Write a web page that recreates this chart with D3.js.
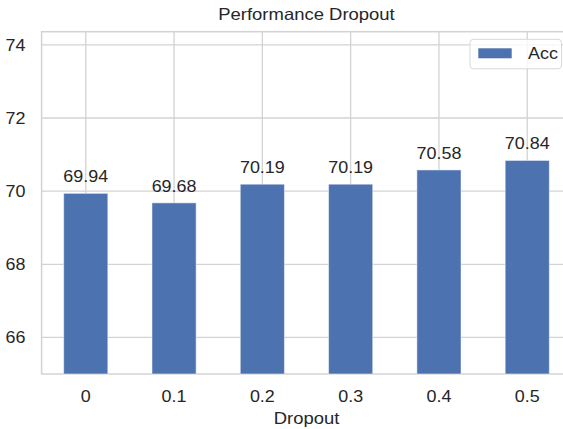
<!DOCTYPE html>
<html>
<head>
<meta charset="utf-8">
<script src="https://cdn.jsdelivr.net/npm/d3@7"></script>
<style>
  body { margin: 0; background: #fff; }
  svg { display: block; font-family: "Liberation Sans", Arial, sans-serif; }
</style>
</head>
<body>
<div id="chart"></div>
<script>
const dropouts = ['0', '0.1', '0.2', '0.3', '0.4', '0.5'];
const accValues = [69.94, 69.68, 70.19, 70.19, 70.58, 70.84];
const yTicks = [66, 68, 70, 72, 74];
const seriesName = 'Acc';

const W = 563, H = 429;
const plot = {left: 41.6, right: 571.4, top: 31.7, bottom: 374};
const textColor = '#262626';
const gridColor = '#d3d3d3';
const barColor = '#4c72b0';
const sx = 1.12; // picture text is a little wider than the font

const svg = d3.select('#chart').append('svg')
    .attr('width', W)
    .attr('height', H);

const x = d3.scaleBand().domain(dropouts).range([plot.left, plot.right])
    .paddingInner(0.5).paddingOuter(0.25);
const y = d3.scaleLinear().domain([65, 74.36]).range([plot.bottom, plot.top]);
const cx = d => x(d) + x.bandwidth() / 2;

function label(g, tx, ty, str, size, anchor) {
    return g.append('text')
        .attr('transform', `translate(${tx},${ty}) scale(${sx},1)`)
        .attr('text-anchor', anchor || 'middle')
        .attr('font-size', size)
        .attr('fill', textColor)
        .text(str);
}

// grid
const grid = svg.append('g');
grid.selectAll('.hg').data(yTicks).join('line')
    .attr('x1', plot.left).attr('x2', plot.right)
    .attr('y1', d => y(d)).attr('y2', d => y(d))
    .attr('stroke', gridColor).attr('stroke-width', 1.3);
grid.selectAll('.vg').data(dropouts).join('line')
    .attr('x1', cx).attr('x2', cx)
    .attr('y1', plot.top).attr('y2', plot.bottom)
    .attr('stroke', gridColor).attr('stroke-width', 1.3);

// frame
svg.append('rect')
    .attr('x', plot.left).attr('y', plot.top)
    .attr('width', plot.right - plot.left).attr('height', plot.bottom - plot.top)
    .attr('fill', 'none').attr('stroke', gridColor).attr('stroke-width', 1.5);

// bars
svg.selectAll('.bar').data(accValues).join('rect')
    .attr('x', (d, i) => x(dropouts[i]))
    .attr('width', x.bandwidth())
    .attr('y', d => y(d))
    .attr('height', d => plot.bottom - y(d))
    .attr('fill', barColor)
    .attr('stroke', '#ffffff').attr('stroke-opacity', 0.5).attr('stroke-width', 1);

// value labels
const vals = svg.append('g');
accValues.forEach((v, i) => {
    label(vals, cx(dropouts[i]), y(v) - 11, v.toFixed(2), 16);
});

// y ticks
const yl = svg.append('g');
yTicks.forEach(t => label(yl, 25.5, y(t) + 5.8, t, 16, 'end'));

// x ticks
const xl = svg.append('g');
dropouts.forEach(d => label(xl, cx(d), 402, d, 16));

// axis label + title
label(svg, (plot.left + plot.right) / 2, 423.5, 'Dropout', 16.5);
label(svg, (plot.left + plot.right) / 2, 20, 'Performance Dropout', 16.5);

// legend
const lg = svg.append('g');
lg.append('rect')
    .attr('x', 470).attr('y', 39.3).attr('width', 91.5).attr('height', 29.5)
    .attr('rx', 3.5)
    .attr('fill', '#ffffff').attr('fill-opacity', 0.8)
    .attr('stroke', '#d8d8d8').attr('stroke-width', 1);
lg.append('rect')
    .attr('x', 478.3).attr('y', 48.3).attr('width', 33.4).attr('height', 10)
    .attr('fill', barColor);
label(lg, 528, 58.7, seriesName, 16, 'start');
</script>
</body>
</html>
